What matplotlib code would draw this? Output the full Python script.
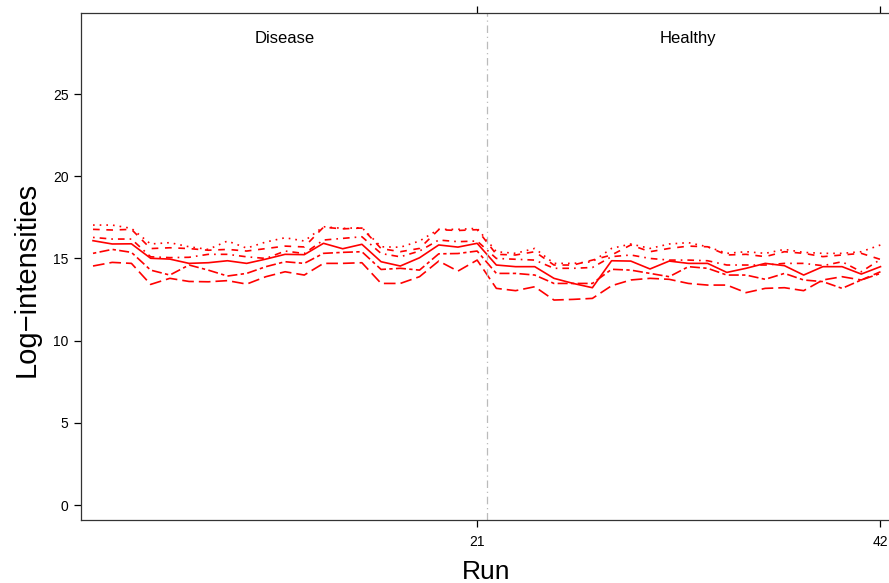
import matplotlib
matplotlib.use("Agg")
import matplotlib.pyplot as plt
import numpy as np

plt.rcParams['font.family'] = ['Liberation Sans', 'DejaVu Sans']

runs = list(range(1, 43))
groups = ["Disease", "Healthy"]
group_centers = [11, 32]
group_boundary = 21.5
x_ticks = [21, 42]
y_ticks = [0, 5, 10, 15, 20, 25]

feature_solid = [16.08, 15.88, 15.89, 15.01, 14.96, 14.70, 14.74, 14.86, 14.70, 14.96, 15.25, 15.23, 15.92, 15.59, 15.86, 14.80, 14.54, 15.04, 15.82, 15.69, 15.92,
                 14.60, 14.50, 14.50, 13.79, 13.48, 13.22, 14.86, 14.84, 14.36, 14.84, 14.70, 14.70, 14.15, 14.40, 14.70, 14.56, 13.99, 14.50, 14.50, 14.05, 14.50]
feature_dotted = [17.03, 17.03, 16.83, 15.88, 15.96, 15.71, 15.55, 16.06, 15.63, 16.00, 16.26, 16.06, 16.93, 16.83, 16.87, 15.71, 15.68, 16.06, 16.77, 16.77, 16.83,
                  15.41, 15.31, 15.61, 14.70, 14.70, 14.80, 15.61, 15.88, 15.61, 15.88, 15.96, 15.71, 15.31, 15.41, 15.31, 15.55, 15.37, 15.31, 15.31, 15.41, 15.82]
feature_dashed = [16.77, 16.73, 16.77, 15.60, 15.65, 15.60, 15.50, 15.55, 15.45, 15.60, 15.75, 15.70, 16.90, 16.80, 16.85, 15.60, 15.41, 15.61, 16.75, 16.70, 16.75,
                  15.25, 15.21, 15.41, 14.60, 14.60, 14.90, 15.21, 15.82, 15.41, 15.61, 15.75, 15.71, 15.21, 15.25, 15.11, 15.41, 15.31, 15.11, 15.21, 15.31, 14.94]
feature_dotdash = [16.28, 16.18, 16.18, 15.10, 15.05, 15.07, 15.25, 15.25, 15.10, 15.00, 15.45, 15.30, 16.12, 16.22, 16.32, 15.30, 15.10, 15.45, 16.12, 16.02, 16.06,
                   15.00, 14.95, 14.90, 14.40, 14.40, 14.45, 15.11, 15.21, 15.00, 14.90, 14.90, 14.86, 14.60, 14.60, 14.60, 14.70, 14.70, 14.56, 14.80, 14.19, 14.94]
feature_twodash = [15.31, 15.55, 15.37, 14.29, 13.99, 14.60, 14.29, 13.93, 14.09, 14.50, 14.80, 14.70, 15.31, 15.37, 15.41, 14.33, 14.40, 14.29, 15.28, 15.30, 15.45,
                   14.09, 14.09, 13.99, 13.48, 13.48, 13.48, 14.34, 14.29, 14.09, 13.89, 14.50, 14.40, 13.99, 13.99, 13.73, 14.09, 13.69, 13.59, 13.18, 13.69, 14.09]
feature_longdash = [14.54, 14.76, 14.70, 13.42, 13.79, 13.60, 13.58, 13.65, 13.44, 13.89, 14.19, 13.99, 14.70, 14.70, 14.74, 13.48, 13.48, 13.89, 14.84, 14.23, 14.90,
                    13.18, 13.04, 13.28, 12.47, 12.51, 12.57, 13.34, 13.69, 13.79, 13.73, 13.48, 13.38, 13.38, 12.92, 13.18, 13.22, 13.04, 13.69, 13.89, 13.69, 14.19]

series = [
    (feature_solid, '-'),
    (feature_dashed, (0, (4, 4))),
    (feature_dotted, (0, (1, 3))),
    (feature_dotdash, (0, (1, 3, 4, 3))),
    (feature_longdash, (0, (7, 3))),
    (feature_twodash, (0, (2, 2, 6, 2))),
]

W, H = 889, 583
fig = plt.figure(figsize=(W / 100, H / 100), dpi=100)
left, right, bottom, top = 81, 892, 520, 13
ax = fig.add_axes([left / W, (H - bottom) / H, (right - left) / W, (bottom - top) / H])

for vals, ls in series:
    ax.plot(runs, vals, color='#FF0000', lw=1.2, linestyle=ls)

ax.axvline(group_boundary, color='#BBBBBB', lw=0.9, linestyle=(0, (6, 3, 1, 3)))

for name, cx in zip(groups, group_centers):
    ax.text(cx, 28.4, name, ha='center', va='center', fontsize=12, color='black')

ax.set_xlim(0.375, 42.6)
ax.set_ylim(-0.91, 29.93)
ax.set_xticks(x_ticks)
ax.set_yticks(y_ticks)
ax.tick_params(axis='both', direction='out', length=5, width=0.9, labelsize=10, colors='black')
ax.tick_params(axis='x', top=True, labeltop=False, pad=6)
ax.tick_params(axis='y', pad=4)
ax.spines['right'].set_visible(False)
for s in ['left', 'bottom', 'top']:
    ax.spines[s].set_linewidth(0.9)
    ax.spines[s].set_color('#333333')

ax.set_xlabel('Run', fontsize=19, labelpad=8)
ax.set_ylabel('Log\u2212intensities', fontsize=21)
ax.yaxis.set_label_coords(-0.05, 0.475)

fig.savefig('out.png', dpi=100)
